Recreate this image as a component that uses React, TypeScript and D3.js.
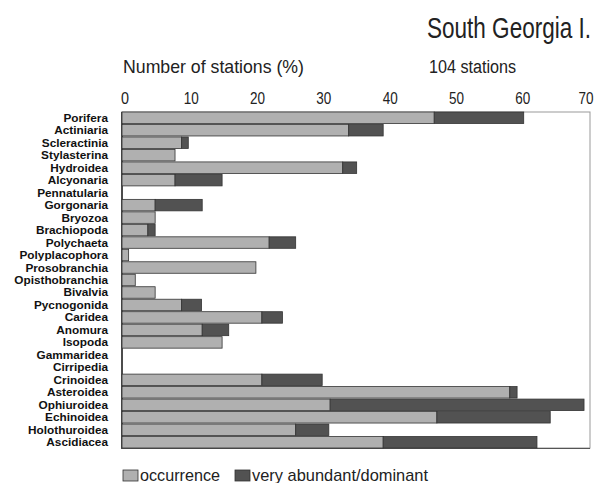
import * as d3 from 'd3';

// taxa, top to bottom
const categories = [
  'Porifera', 'Actiniaria', 'Scleractinia', 'Stylasterina', 'Hydroidea', 'Alcyonaria',
  'Pennatularia', 'Gorgonaria', 'Bryozoa', 'Brachiopoda', 'Polychaeta', 'Polyplacophora',
  'Prosobranchia', 'Opisthobranchia', 'Bivalvia', 'Pycnogonida', 'Caridea', 'Anomura',
  'Isopoda', 'Gammaridea', 'Cirripedia', 'Crinoidea', 'Asteroidea', 'Ophiuroidea',
  'Echinoidea', 'Holothuroidea', 'Ascidiacea',
];

// % of stations (light part)
const occurrence = [
  47.1, 34.2, 9.0, 8.0, 33.3, 8.0, 0, 5.0, 5.0, 3.9, 22.2, 1.0, 20.2, 2.0, 5.0, 9.0,
  21.1, 12.1, 15.1, 0, 0, 21.1, 58.5, 31.4, 47.5, 26.2, 39.4,
];
// % of stations where very abundant / dominant (dark part, stacked after)
const dominant = [
  13.5, 5.2, 1.0, 0, 2.1, 7.1, 0, 7.1, 0, 1.1, 4.0, 0, 0, 0, 0, 3.0,
  3.1, 4.0, 0, 0, 0, 9.1, 1.1, 38.3, 17.1, 5.0, 23.2,
];
const xTicks = [0, 10, 20, 30, 40, 50, 60, 70];

const W = 595, H = 483;
const LIGHT = '#b0b0b0', DARK = '#525252', EDGE = '#333';
const sans = "'Liberation Sans', Arial, sans-serif";

export default function App() {
  const x = d3.scaleLinear().domain([0, 70.6]).range([122, 590]);
  const y = d3.scaleBand<string>().domain(categories).range([112, 448]).paddingInner(0.08).paddingOuter(0);
  const bw = y.bandwidth();

  return (
    <svg width={W} height={H} style={{ position: 'absolute', left: 0, top: 0, background: '#fff' }}>
      {/* headings are condensed in the original, squeeze them to width */}
      <text x={427} y={38} fontFamily={sans} fontSize={29} fill="#222"
        textLength={164} lengthAdjust="spacingAndGlyphs">South Georgia I.</text>
      <text x={123} y={73} fontFamily={sans} fontSize={19} fill="#222"
        textLength={181} lengthAdjust="spacingAndGlyphs">Number of stations (%)</text>
      <text x={429} y={73} fontFamily={sans} fontSize={18} fill="#222"
        textLength={87} lengthAdjust="spacingAndGlyphs">104 stations</text>

      {xTicks.map(t => {
        const w = t === 0 ? 8 : 15;
        const cx = Math.min(x(t) + 3, 586);
        return (
          <text key={t} x={cx - w / 2} y={104} fontFamily={sans} fontSize={17} fill="#222"
            textLength={w} lengthAdjust="spacingAndGlyphs">{t}</text>
        );
      })}

      {/* frame */}
      <rect x={122} y={112} width={590 - 122} height={448 - 112} fill="none" stroke="#999" strokeWidth={1} />
      <line x1={122} x2={122} y1={112} y2={449} stroke="#222" strokeWidth={1.5} />
      <line x1={122} x2={590} y1={448.5} y2={448.5} stroke="#555" strokeWidth={1} />

      {categories.map((c, i) => {
        const yy = y(c)!;
        return (
          <g key={c}>
            <text x={108} y={yy + bw / 2 + 4} textAnchor="end" fontFamily={sans}
              fontWeight="bold" fontSize={11.8} fill="#111">{c}</text>
            {occurrence[i] > 0 && (
              <rect x={x(0)} y={yy} width={x(occurrence[i]) - x(0)} height={bw} fill={LIGHT} stroke={EDGE} strokeWidth={0.8} />
            )}
            {dominant[i] > 0 && (
              <rect x={x(occurrence[i])} y={yy} width={x(occurrence[i] + dominant[i]) - x(occurrence[i])} height={bw}
                fill={DARK} stroke={EDGE} strokeWidth={0.8} />
            )}
          </g>
        );
      })}

      {/* legend */}
      <rect x={123} y={470} width={15} height={11} fill={LIGHT} stroke={EDGE} strokeWidth={0.8} />
      <text x={140} y={481} fontFamily={sans} fontSize={17} fill="#222"
        textLength={80} lengthAdjust="spacingAndGlyphs">occurrence</text>
      <rect x={235} y={470} width={15} height={11} fill={DARK} stroke={EDGE} strokeWidth={0.8} />
      <text x={252} y={481} fontFamily={sans} fontSize={17} fill="#222"
        textLength={176} lengthAdjust="spacingAndGlyphs">very abundant/dominant</text>
    </svg>
  );
}
